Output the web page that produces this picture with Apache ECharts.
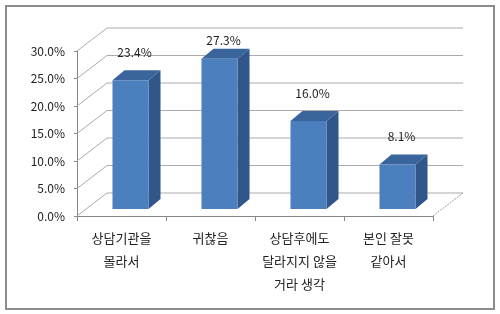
<!DOCTYPE html>
<html>
<head>
<meta charset="utf-8">
<script src="https://cdn.jsdelivr.net/npm/echarts@6/dist/echarts.min.js"></script>
<style>
html,body{margin:0;padding:0;background:#fff;}
#main{width:500px;height:314px;}
</style>
</head>
<body>
<div id="main"></div>
<script>
// ---- data ----
var categories = ['상담기관을\n몰라서', '귀찮음', '상담후에도\n달라지지 않을\n거라 생각', '본인 잘못\n같아서'];
var values = [23.4, 27.3, 16.0, 8.1];
var yTicks = [0, 5, 10, 15, 20, 25, 30];
var yMin = 0, yMax = 30, yStep = 5;

// ---- 3D look ----
var WALL_DX = 30, WALL_DY = -23;   // back wall offset
var BAR_DX = 9, BAR_DY = -7;       // bar front-face offset from front plane
var DEP_DX = 12, DEP_DY = -10;     // bar depth
var BAR_RATIO = 0.405;
var FONT = '"Noto Sans CJK KR", "Noto Sans", sans-serif';

var chart = echarts.init(document.getElementById('main'), null, {renderer: 'canvas'});

function wallRender(params, api) {
  var v = api.value(0);
  var band = api.size([1, 0])[0];
  var p0 = api.coord([0, v]);
  var p3 = api.coord([categories.length - 1, v]);
  var left = p0[0] - band / 2, right = p3[0] + band / 2, y = p0[1];
  var children = [];
  var style = {stroke: '#ababab', lineWidth: 1, fill: null};
  children.push({type: 'polyline', shape: {points: [[left, y], [left + WALL_DX, y + WALL_DY], [right + WALL_DX, y + WALL_DY]]}, style: style, silent: true});
  if (v === yMin) {
    children.push({type: 'line', shape: {x1: right, y1: y, x2: right + WALL_DX, y2: y + WALL_DY}, style: {stroke: '#9a9a9a', lineWidth: 1, lineDash: [2, 1]}, silent: true});
  }
  return {type: 'group', children: children};
}

function barRender(params, api) {
  var idx = api.value(0), val = api.value(1);
  var band = api.size([1, 0])[0];
  var w = band * BAR_RATIO;
  var base = api.coord([idx, yMin]);
  var top = api.coord([idx, val]);
  var x0 = base[0] - w / 2 + BAR_DX, x1 = x0 + w;
  var yb = base[1] + BAR_DY, yt = top[1] + BAR_DY;
  return {
    type: 'group',
    children: [
      {type: 'polygon', shape: {points: [[x1, yb], [x1 + DEP_DX, yb + DEP_DY], [x1 + DEP_DX, yt + DEP_DY], [x1, yt]]}, style: {fill: '#31578a'}},
      {type: 'polygon', shape: {points: [[x0, yt], [x0 + DEP_DX, yt + DEP_DY], [x1 + DEP_DX, yt + DEP_DY], [x1, yt]]}, style: {fill: '#3a649c'}},
      {type: 'rect', shape: {x: x0, y: yt, width: w, height: yb - yt}, style: {fill: '#4b7fbe'}},
      {type: 'text', x: (x0 + x1) / 2 + 4, y: Math.max(yt - 28, 40), style: {text: val.toFixed(1) + '%', fill: '#222', font: '12px ' + FONT, align: 'center', verticalAlign: 'middle'}}
    ]
  };
}

chart.setOption({
  backgroundColor: '#fff',
  animation: false,
  graphic: [{type: 'rect', shape: {x: 6, y: 6, width: 488, height: 303}, style: {fill: null, stroke: '#8c8c8c', lineWidth: 2}, silent: true}],
  grid: {left: 77, right: 67, top: 51, bottom: 98, containLabel: false},
  xAxis: {
    type: 'category', data: categories,
    axisLine: {lineStyle: {color: '#868686'}},
    axisTick: {show: true, length: 5, lineStyle: {color: '#868686'}},
    axisLabel: {color: '#222', fontSize: 13, lineHeight: 23, margin: 11, fontFamily: FONT, interval: 0}
  },
  yAxis: {
    type: 'value', min: yMin, max: yMax, interval: yStep,
    axisLine: {show: true, lineStyle: {color: '#868686'}},
    axisTick: {show: true, length: 3, lineStyle: {color: '#868686'}},
    splitLine: {show: false},
    axisLabel: {color: '#222', fontSize: 12, margin: 12, fontFamily: FONT, formatter: function (v) { return v.toFixed(1) + '%'; }}
  },
  series: [
    {type: 'custom', renderItem: wallRender, data: yTicks.map(function (t) { return [t]; }), encode: {y: 0}, z: 1, silent: true},
    {type: 'custom', renderItem: barRender, data: values.map(function (v, i) { return [i, v]; }), encode: {x: 0, y: 1}, z: 3, silent: true}
  ]
});
</script>
</body>
</html>
